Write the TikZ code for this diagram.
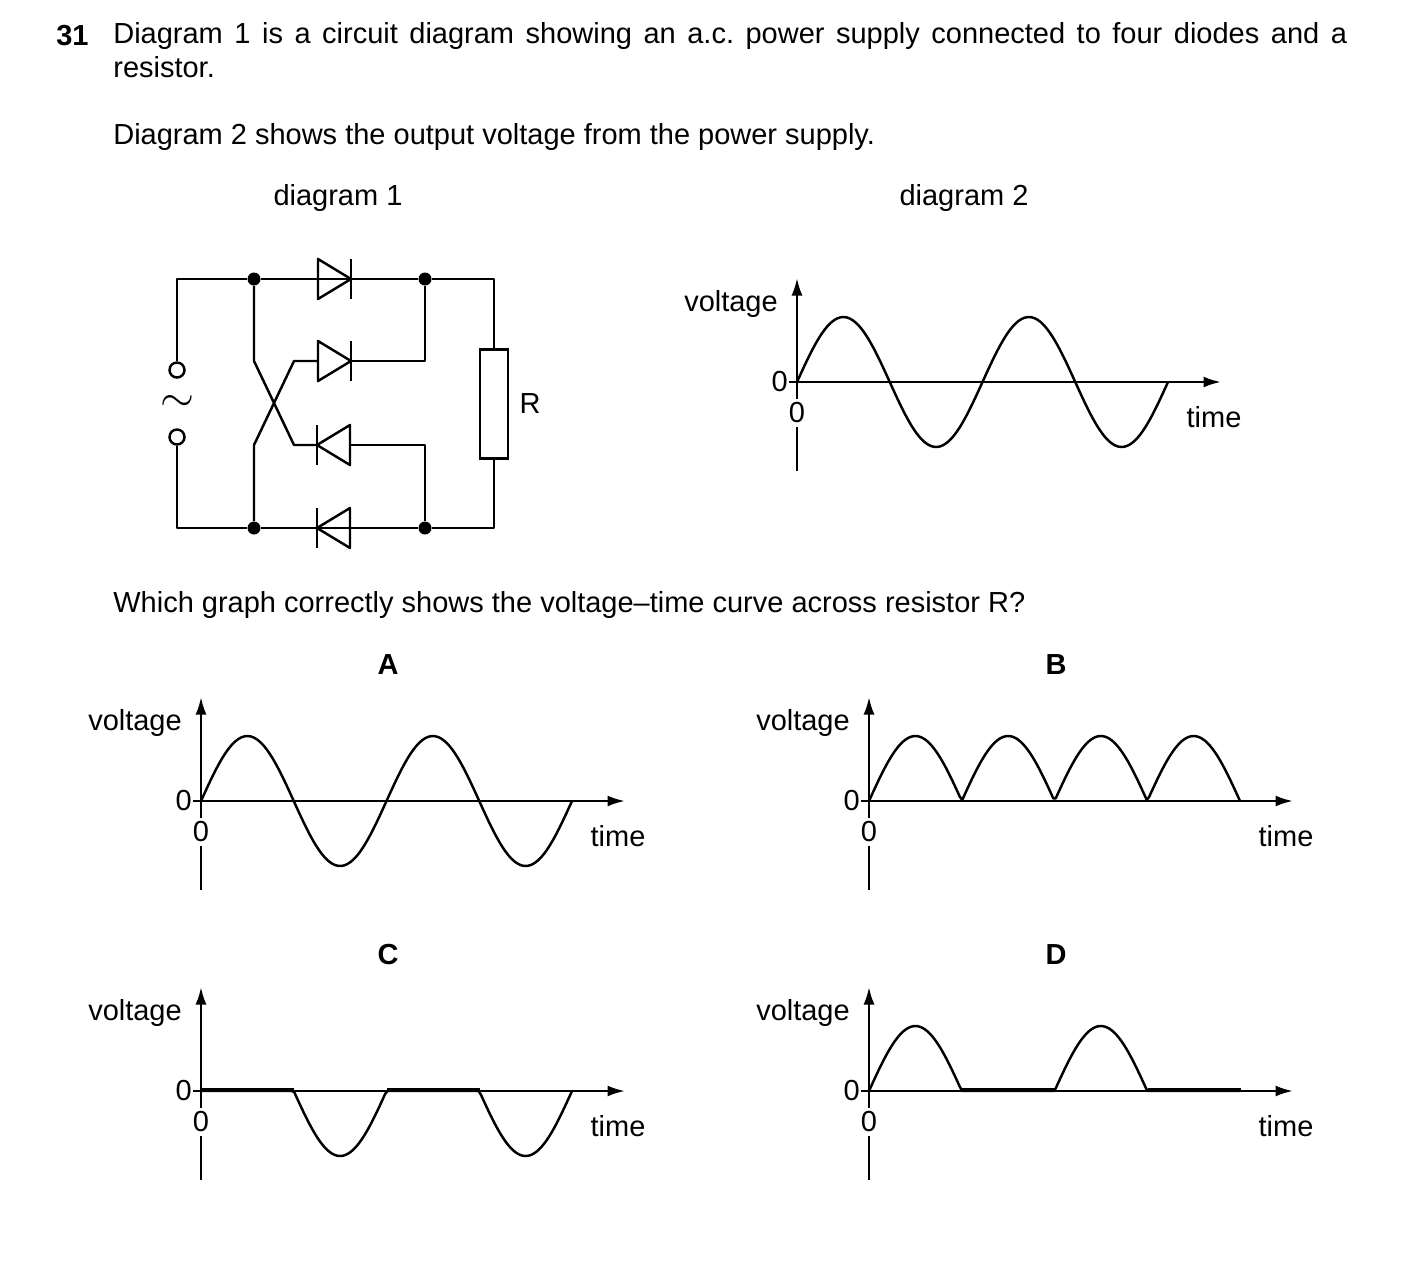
\documentclass[tikz,border=0pt]{standalone}
\usepackage{fontspec}
\setmainfont{Liberation Sans}
\usetikzlibrary{arrows.meta, positioning}

\tikzset{
  wire/.style={line width=1.4pt, line join=round},
  dot/.style={circle, fill, inner sep=0pt, minimum size=0.26cm},
  term/.style={circle, draw, line width=1.4pt, inner sep=0pt, minimum size=0.3cm},
  lbl/.style={inner sep=0pt, font=\fontsize{16.5}{19}\selectfont},
  pics/diode right/.style={code={
    \draw[wire] (-16,-20) -- (17,0) -- (-16,20) -- cycle;
    \draw[wire] (17,-20) -- (17,20);
  }},
  pics/diode left/.style={code={
    \draw[wire] (16,-20) -- (-17,0) -- (16,20) -- cycle;
    \draw[wire] (-17,-20) -- (-17,20);
  }},
  pics/vt axes/.style={code={
    \draw[wire, -{Latex[length=0.35cm, width=0.22cm]}] (0,89) -- (0,-104);
    \draw[wire, -{Latex[length=0.35cm, width=0.22cm]}] (0,0) -- (424,0);
    \draw[wire] (-8,0) -- (0,0);
    \node[lbl, anchor=east] (-zero) at (-9,0) {0};
    \node[lbl, fill=white, inner ysep=2pt] (-zeroaxis) at (0,31) {0};
    \node[lbl] (-voltage) at (-66,-78) {voltage};
    \node[lbl] (-time) at (417,35) {time};
  }}
}

\begin{document}
\begin{tikzpicture}[x=0.02cm, y=-0.02cm]
  \useasboundingbox (0,0) rectangle (1403,1275);

  % question text
  \node[lbl, anchor=base west, font=\fontsize{16.5}{19}\bfseries] (num) at (56,45) {31};
  \node[lbl, anchor=north west, text width=24.68cm, align=justify,
        font=\fontsize{16.5}{19.3}\selectfont] (intro) at (113,22)
    {Diagram 1 is a circuit diagram showing an a.c.\ power supply connected to four diodes and a\linebreak resistor.};
  \node[lbl, anchor=base west] (intro2) at (113,144) {Diagram 2 shows the output voltage from the power supply.};
  \node[lbl] (title1) at (338,198) {diagram 1};
  \node[lbl] (title2) at (964,198) {diagram 2};
  \node[lbl, anchor=base west] (ask) at (113,612) {Which graph correctly shows the voltage--time curve across resistor R?};

  % circuit nodes
  \node[dot] (tl) at (254,279) {};
  \node[dot] (tr) at (425,279) {};
  \node[dot] (bl) at (254,528) {};
  \node[dot] (br) at (425,528) {};
  \node[term] (ta) at (177,370) {};
  \node[term] (tb) at (177,437) {};
  \node[lbl, font=\fontsize{24}{24}\selectfont] (ac) at (177,403) {$\sim$};
  \node[draw, line width=1.4pt, minimum width=0.56cm, minimum height=2.18cm, inner sep=0pt] (res) at (494,404) {};
  \node[lbl, right=0.2cm of res] (rlab) {R};
  \coordinate (corner tl) at (177,279);
  \coordinate (corner bl) at (177,528);

  % diodes
  \pic at (334,279) {diode right};
  \pic at (334,361) {diode right};
  \pic at (334,445) {diode left};
  \pic at (334,528) {diode left};

  % wiring
  \draw[wire] (ta) -- (corner tl) -- (tl) -- (tr) -| (res.north);
  \draw[wire] (tb) -- (corner bl) -- (bl) -- (br) -| (res.south);
  \draw[wire] (tl) -- (254,361) -- (294,445) -- (318,445);
  \draw[wire] (bl) -- (254,445) -- (294,361) -- (318,361);
  \draw[wire] (351,361) -| (tr);
  \draw[wire] (351,445) -| (br);

  % diagram 2
  \pic (d2) at (797,382) {vt axes};
  \draw[wire, domain=0:371, samples=120, smooth] plot (\x+797, {382-65*sin(\x/92.75*180)});

  % option A
  \node[lbl, font=\fontsize{16.5}{19}\bfseries] (optA) at (388,665) {A};
  \pic (ga) at (201,801) {vt axes};
  \draw[wire, domain=0:371, samples=120, smooth] plot (\x+201, {801-65*sin(\x/92.75*180)});

  % option B
  \node[lbl, font=\fontsize{16.5}{19}\bfseries] (optB) at (1056,665) {B};
  \pic (gb) at (869,801) {vt axes};
  \draw[wire, domain=0:371, samples=160] plot (\x+869, {801-65*abs(sin(\x/92.75*180))});

  % option C
  \node[lbl, font=\fontsize{16.5}{19}\bfseries] (optC) at (388,955) {C};
  \pic (gc) at (201,1091) {vt axes};
  \draw[wire, domain=0:371, samples=160] plot (\x+201, {1091-65*min(0,sin(\x/92.75*180))});
  \draw[wire, line width=2.4pt] (201,1090) -- (294,1090) (387,1090) -- (480,1090);

  % option D
  \node[lbl, font=\fontsize{16.5}{19}\bfseries] (optD) at (1056,955) {D};
  \pic (gd) at (869,1091) {vt axes};
  \draw[wire, domain=0:371, samples=160] plot (\x+869, {1091-65*max(0,sin(\x/92.75*180))});
  \draw[wire, line width=2.4pt] (962,1090) -- (1055,1090) (1148,1090) -- (1241,1090);
\end{tikzpicture}
\end{document}
